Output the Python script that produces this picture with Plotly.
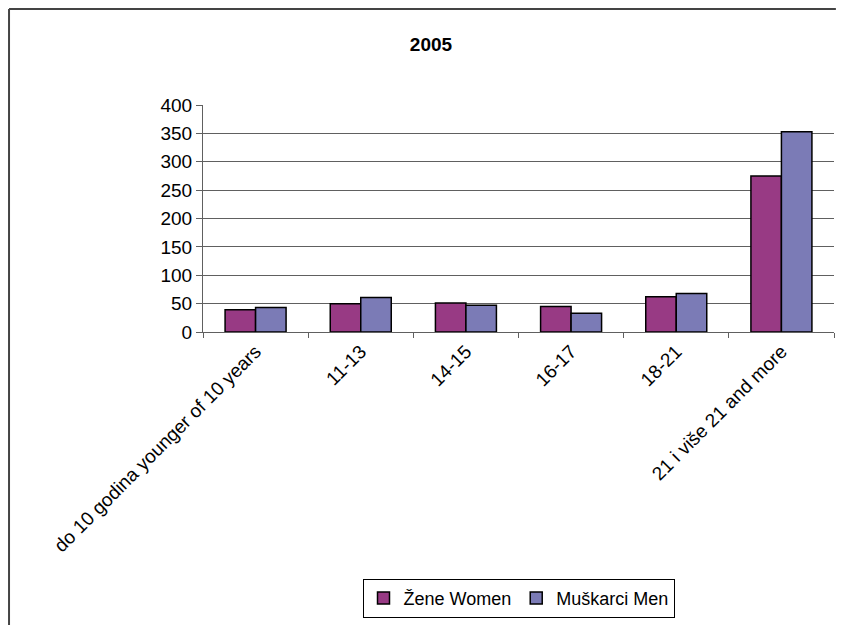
import plotly.graph_objects as go

# data
categories = [
    "do 10 godina younger of 10 years",
    "11-13",
    "14-15",
    "16-17",
    "18-21",
    "21 i više 21 and more",
]
zene = [39, 50, 51, 45, 62, 275]
muskarci = [43, 61, 47, 33, 68, 353]
y_ticks = [0, 50, 100, 150, 200, 250, 300, 350, 400]

FONT = "Liberation Sans, Arial, sans-serif"

# the page puts the figure 8px in from the top-left corner,
# so the margins below are already shifted back by that amount
fig = go.Figure()

fig.add_trace(
    go.Bar(
        x=categories,
        y=zene,
        name="Žene Women",
        marker=dict(color="#983A84", line=dict(color="#000000", width=1.5)),
    )
)
fig.add_trace(
    go.Bar(
        x=categories,
        y=muskarci,
        name="Muškarci Men",
        marker=dict(color="#7B7BB6", line=dict(color="#000000", width=1.5)),
    )
)

# outer frame (left and top edges visible in the reference)
fig.add_shape(
    type="line", xref="paper", yref="paper",
    x0=-0.3074, x1=-0.3074, y0=1.423, y1=-1.5,
    line=dict(color="#444444", width=2),
)
fig.add_shape(
    type="line", xref="paper", yref="paper",
    x0=-0.3074, x1=1.003, y0=1.423, y1=1.423,
    line=dict(color="#444444", width=2),
)

fig.update_layout(
    width=845,
    height=625,
    margin=dict(l=195, r=19, t=97, b=301),
    paper_bgcolor="white",
    plot_bgcolor="white",
    barmode="group",
    bargap=0.42,
    bargroupgap=0,
    font=dict(family=FONT, size=19, color="#000000"),
    title=dict(
        text="<b>2005</b>",
        x=423 / 845,
        xanchor="center",
        xref="container",
        y=1 - 36 / 625,
        yanchor="middle",
        yref="container",
        font=dict(family=FONT, size=19, color="#000000"),
    ),
    legend=dict(
        orientation="h",
        x=0.5,
        xanchor="center",
        y=-1.087,
        yanchor="top",
        bordercolor="#000000",
        borderwidth=1,
        font=dict(family=FONT, size=18),
        itemwidth=30,
        traceorder="normal",
    ),
    showlegend=True,
)

fig.update_xaxes(
    type="category",
    tickangle=-45,
    ticks="outside",
    tickson="boundaries",
    ticklen=5,
    tickcolor="#606060",
    showline=True,
    linecolor="#606060",
    linewidth=1,
    showgrid=False,
    tickfont=dict(family=FONT, size=19),
)
fig.update_yaxes(
    range=[0, 400],
    tickvals=y_ticks,
    ticks="outside",
    ticklen=6,
    tickcolor="#606060",
    showline=True,
    linecolor="#606060",
    linewidth=1,
    showgrid=True,
    gridcolor="#606060",
    gridwidth=1,
    zeroline=False,
    tickfont=dict(family=FONT, size=19),
)

fig.write_html("out.html")
